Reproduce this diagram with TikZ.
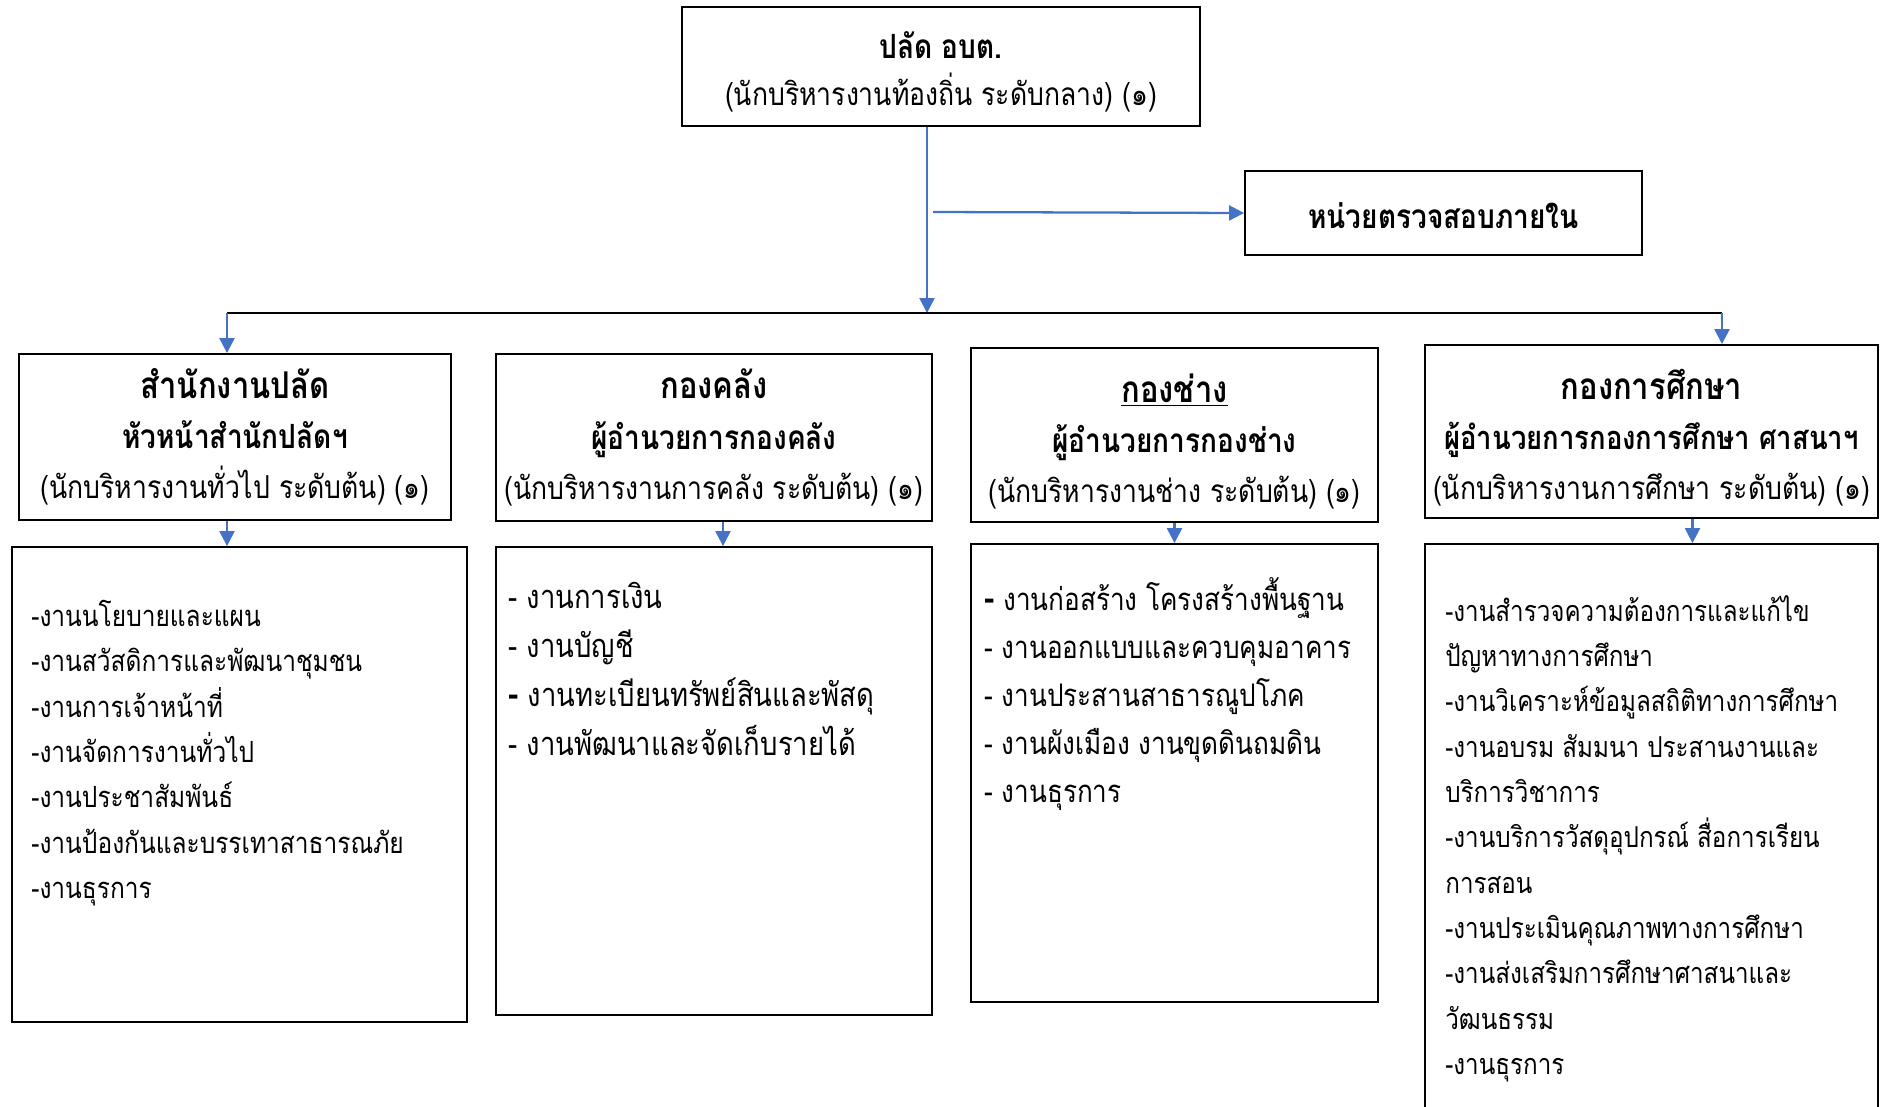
\documentclass[tikz,border=0pt]{standalone}
\usepackage{fontspec}
\newfontfamily\thaifont[Script=Thai, FakeStretch=0.84]{Loma}
\usetikzlibrary{arrows.meta,positioning}
\definecolor{orgblue}{HTML}{4472C4}
\newcommand{\bdash}{{\fontsize{21}{27}\selectfont\bfseries -}}

\begin{document}
\begin{tikzpicture}[x=0.02cm, y=-0.02cm,
  font=\thaifont\fontsize{18}{28.5}\selectfont,
  box/.style={draw, line width=1.1pt, inner sep=0pt},
  head/.style={align=center, inner sep=0pt},
  list/.style={align=left, anchor=north west, inner sep=0pt},
  conn/.style={draw=orgblue, line width=1.3pt, -{Triangle[width=8.5pt,length=8.5pt]}},
  bus/.style={draw, line width=1.2pt}
]
\useasboundingbox (0,0) rectangle (1886,1106);

% top level
\node[box, minimum width=10.36cm, minimum height=2.38cm] (top) at (941,66.5) {};
\node[head, font=\thaifont\fontsize{18}{27}\selectfont] (toptxt) at (941,72)
  {{\fontsize{19}{27}\selectfont\textbf{ปลัด อบต.}}\\(นักบริหารงานท้องถิ่น ระดับกลาง) (๑)};
\node[box, minimum width=7.94cm, minimum height=1.68cm] (audit) at (1443.5,213) {};
\node[head] (audittxt) at (1443.5,216) {{\fontsize{19}{27}\selectfont\textbf{หน่วยตรวจสอบภายใน}}};

\coordinate (j) at (927,313);
\coordinate (a0) at (933,212);
\coordinate (bl) at (227,313);
\coordinate (br) at (1722,313);

% divisions
\node[box, minimum width=8.64cm, minimum height=3.32cm] (d1) at (235,437) {};
\node[box, minimum width=8.72cm, minimum height=3.34cm] (d2) at (714,437.5) {};
\node[box, minimum width=8.14cm, minimum height=3.48cm] (d3) at (1174.5,435) {};
\node[box, minimum width=9.06cm, minimum height=3.46cm] (d4) at (1651.5,431.5) {};

\node[head] (d1txt) at (235,437)
  {{\fontsize{21}{28.5}\selectfont\textbf{สำนักงานปลัด}}\\{\fontsize{19}{28.5}\selectfont\textbf{หัวหน้าสำนักปลัดฯ}}\\(นักบริหารงานทั่วไป ระดับต้น) (๑)};
\node[head] (d2txt) at (714,437.5)
  {{\fontsize{21}{28.5}\selectfont\textbf{กองคลัง}}\\{\fontsize{19}{28.5}\selectfont\textbf{ผู้อำนวยการกองคลัง}}\\(นักบริหารงานการคลัง ระดับต้น) (๑)};
\node[head] (d3txt) at (1174.5,441.5)
  {{\fontsize{21}{28.5}\selectfont\textbf{\underline{กองช่าง}}}\\{\fontsize{19}{28.5}\selectfont\textbf{ผู้อำนวยการกองช่าง}}\\(นักบริหารงานช่าง ระดับต้น) (๑)};
\node[head] (d4txt) at (1651.5,438)
  {{\fontsize{21}{28.5}\selectfont\textbf{กองการศึกษา}}\\{\fontsize{18.6}{28.5}\selectfont\textbf{ผู้อำนวยการกองการศึกษา ศาสนาฯ}}\\(นักบริหารงานการศึกษา ระดับต้น) (๑)};

% work lists
\node[box, minimum width=9.10cm, minimum height=9.50cm] (w1) at (239.5,784.5) {};
\node[box, minimum width=8.72cm, minimum height=9.36cm] (w2) at (714,781) {};
\node[box, minimum width=8.14cm, minimum height=9.16cm] (w3) at (1174.5,773) {};
\node[box, minimum width=9.06cm, minimum height=11.72cm] (w4) at (1651.5,837) {};

\node[list, font=\thaifont\fontsize{16.6}{25.8}\selectfont] (t1) at (31,600)
  {-งานนโยบายและแผน\\-งานสวัสดิการและพัฒนาชุมชน\\-งานการเจ้าหน้าที่\\-งานจัดการงานทั่วไป\\-งานประชาสัมพันธ์\\-งานป้องกันและบรรเทาสาธารณภัย\\-งานธุรการ};
\node[list, font=\thaifont\fontsize{18.6}{27.9}\selectfont] (t2) at (508,582)
  {- งานการเงิน\\- งานบัญชี\\\bdash{} งานทะเบียนทรัพย์สินและพัสดุ\\- งานพัฒนาและจัดเก็บรายได้};
\node[list, font=\thaifont\fontsize{17.7}{27.3}\selectfont] (t3) at (984,577)
  {\bdash{} งานก่อสร้าง โครงสร้างพื้นฐาน\\- งานออกแบบและควบคุมอาคาร\\- งานประสานสาธารณูปโภค\\- งานผังเมือง งานขุดดินถมดิน\\- งานธุรการ};
\node[list, font=\thaifont\fontsize{16.4}{25.8}\selectfont] (t4) at (1445,595)
  {-งานสำรวจความต้องการและแก้ไข\\ปัญหาทางการศึกษา\\-งานวิเคราะห์ข้อมูลสถิติทางการศึกษา\\-งานอบรม สัมมนา ประสานงานและ\\บริการวิชาการ\\-งานบริการวัสดุอุปกรณ์ สื่อการเรียน\\การสอน\\-งานประเมินคุณภาพทางการศึกษา\\-งานส่งเสริมการศึกษาศาสนาและ\\วัฒนธรรม\\-งานธุรการ};

% connectors
\draw[conn] (top.south -| j) -- (j);
\draw[conn] (a0) -- (audit.west);
\draw[bus] (bl) -- (br);
\draw[conn] (bl) -- (bl |- d1.north);
\draw[conn] (br) -- (br |- d4.north);
\draw[conn] (d1.south -| bl) -- (w1.north -| bl);
\draw[conn] ([xshift=0.18cm]d2.south) -- ([xshift=0.18cm]w2.north);
\draw[conn] (d3.south) -- (w3.north);
\draw[conn] ([xshift=0.82cm]d4.south) -- ([xshift=0.82cm]w4.north);
\end{tikzpicture}
\end{document}
